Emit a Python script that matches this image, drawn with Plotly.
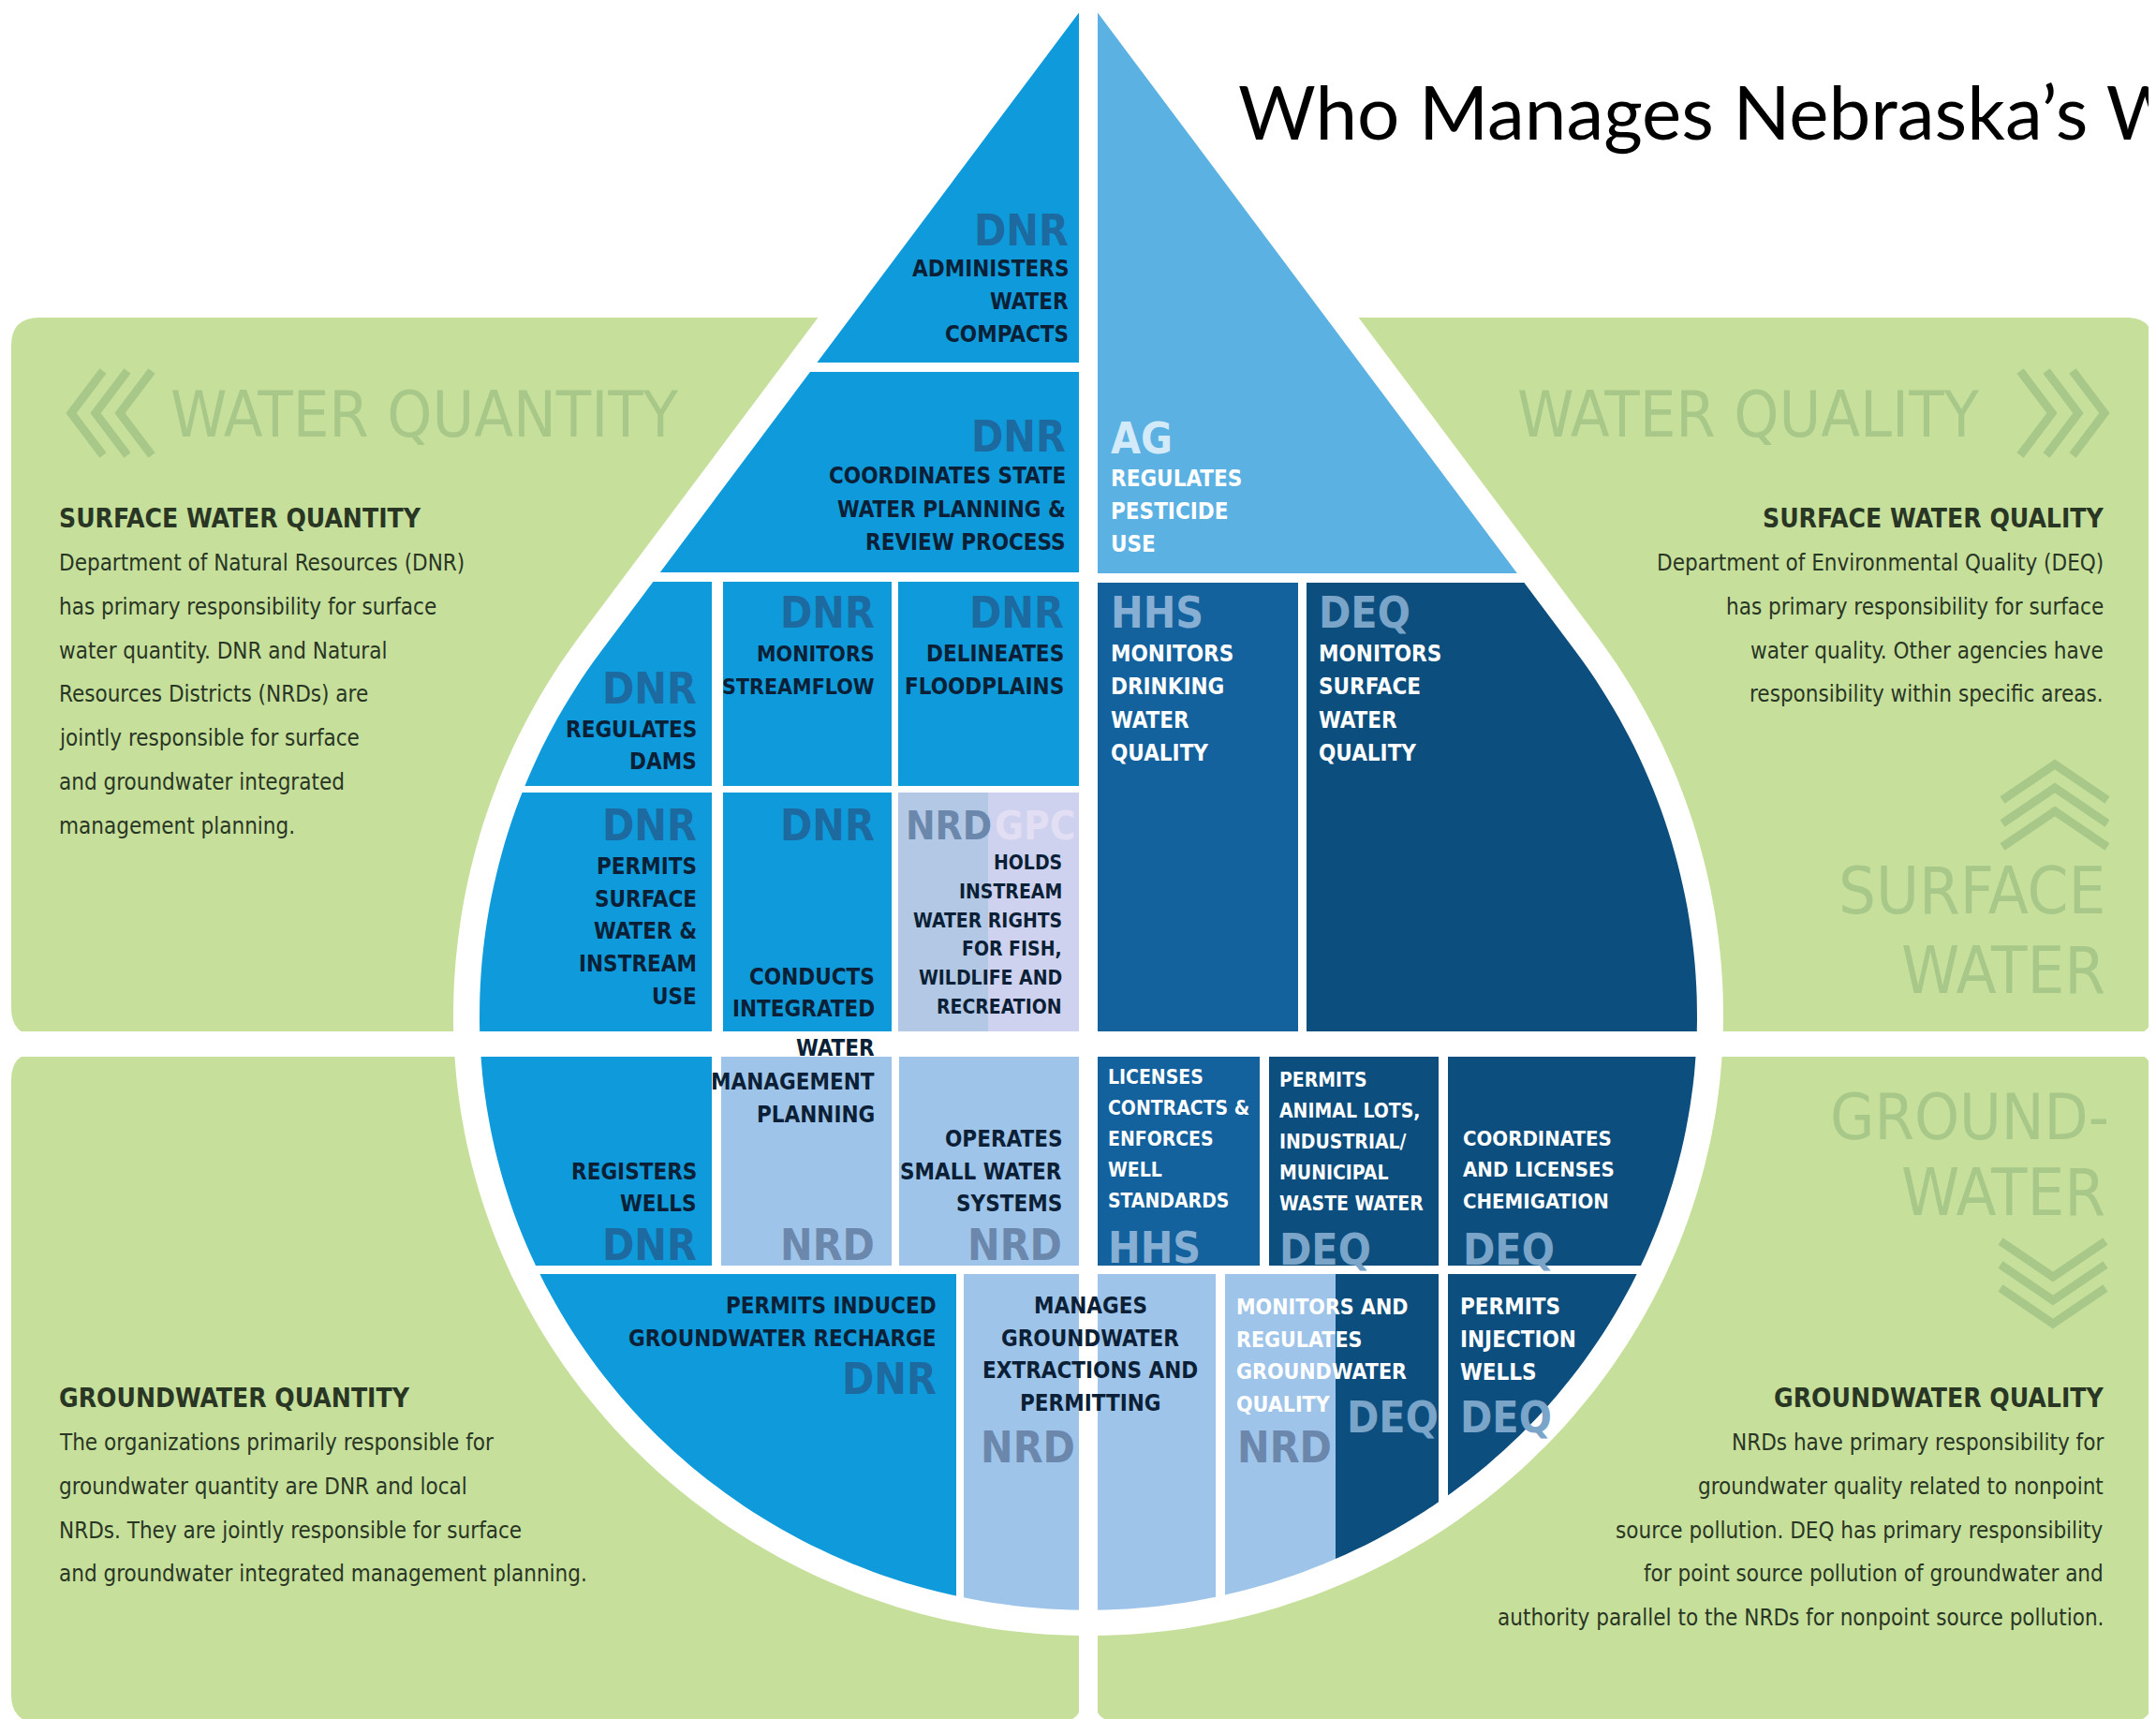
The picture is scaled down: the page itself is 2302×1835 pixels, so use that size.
import numpy as np
import plotly.graph_objects as go

# ---------------- content ----------------
TITLE = "Who Manages Nebraska’s Water?"

PANEL_HEADINGS = ["SURFACE WATER QUANTITY", "SURFACE WATER QUALITY",
                  "GROUNDWATER QUANTITY", "GROUNDWATER QUALITY"]
PANEL_BODIES = [
    ["Department of Natural Resources (DNR)", "has primary responsibility for surface",
     "water quantity. DNR and Natural", "Resources Districts (NRDs) are",
     "jointly responsible for surface", "and groundwater integrated", "management planning."],
    ["Department of Environmental Quality (DEQ)", "has primary responsibility for surface",
     "water quality. Other agencies have", "responsibility within specific areas."],
    ["The organizations primarily responsible for", "groundwater quantity are DNR and local",
     "NRDs. They are jointly responsible for surface",
     "and groundwater integrated management planning."],
    ["NRDs have primary responsibility for", "groundwater quality related to nonpoint",
     "source pollution. DEQ has primary responsibility",
     "for point source pollution of groundwater and",
     "authority parallel to the NRDs for nonpoint source pollution."],
]
WATERMARKS = ["WATER QUANTITY", "WATER QUALITY", "SURFACE", "WATER", "GROUND-", "WATER"]

BLOCK_AGENCY = ["DNR", "DNR", "DNR", "DNR", "DNR", "DNR", "DNR", "NRD", "DNR", "NRD", "NRD",
                "DNR", "NRD", "AG", "HHS", "DEQ", "HHS", "DEQ", "DEQ", "NRD", "DEQ"]
BLOCK_AGENCY2 = [None] * 7 + ["GPC"] + [None] * 11 + ["DEQ", None]
BLOCK_ACTION = [
    ["ADMINISTERS", "WATER", "COMPACTS"],
    ["COORDINATES STATE", "WATER PLANNING &", "REVIEW PROCESS"],
    ["REGULATES", "DAMS"],
    ["MONITORS", "STREAMFLOW"],
    ["DELINEATES", "FLOODPLAINS"],
    ["PERMITS", "SURFACE", "WATER &", "INSTREAM", "USE"],
    ["CONDUCTS", "INTEGRATED"],
    ["HOLDS", "INSTREAM", "WATER RIGHTS", "FOR FISH,", "WILDLIFE AND", "RECREATION"],
    ["REGISTERS", "WELLS"],
    ["WATER", "MANAGEMENT", "PLANNING"],
    ["OPERATES", "SMALL WATER", "SYSTEMS"],
    ["PERMITS INDUCED", "GROUNDWATER RECHARGE"],
    ["MANAGES", "GROUNDWATER", "EXTRACTIONS AND", "PERMITTING"],
    ["REGULATES", "PESTICIDE", "USE"],
    ["MONITORS", "DRINKING", "WATER", "QUALITY"],
    ["MONITORS", "SURFACE", "WATER", "QUALITY"],
    ["LICENSES", "CONTRACTS &", "ENFORCES", "WELL", "STANDARDS"],
    ["PERMITS", "ANIMAL LOTS,", "INDUSTRIAL/", "MUNICIPAL", "WASTE WATER"],
    ["COORDINATES", "AND LICENSES", "CHEMIGATION"],
    ["MONITORS AND", "REGULATES", "GROUNDWATER", "QUALITY"],
    ["PERMITS", "INJECTION", "WELLS"],
]

# ---------------- styles / layout ----------------
W, H = 2302, 1835
GREEN = "#c6e09c"
WM = "#a8c889"
DARKTXT = "#2a3624"
COND = "DejaVu Sans Condensed, Roboto, sans-serif"

STY = {
    "DNR": dict(fill="#0f9bdb", txt="#0b1f36", lab="#1c6aa0"),
    "NRD": dict(fill="#9fc4e9", txt="#0b1f36", lab="#6b87ab"),
    "AG": dict(fill="#5cb1e3", txt="#ffffff", lab="#d3eaf8"),
    "HHS": dict(fill="#13619d", txt="#ffffff", lab="#86afd3"),
    "DEQ": dict(fill="#0c4e7e", txt="#ffffff", lab="#7ba4c9"),
}

# drop geometry
CX, APEX_Y, CY, R = 1154, -8, 1077, 650
SQUASH = 0.975          # lower half of the drop is slightly flattened
OUTLINE = 28
VGAP = (1144, 1164)
HGAP = (1093, 1120)

# per-block placement: box, text anchor x, align, first line y, line step, font size, label y
BL = [
    dict(box=(-200, 1144, -200, 379), x=1135, al="right", y0=279, dy=35, fs=24, ly=238),
    dict(box=(-200, 1144, 389, 603), x=1132, al="right", y0=500, dy=35.5, fs=24, ly=458),
    dict(box=(-200, 752, 613, 831), x=738, al="right", y0=771, dy=34, fs=24, ly=727),
    dict(box=(764, 944, 613, 831), x=928, al="right", y0=690, dy=35, fs=23, ly=646),
    dict(box=(951, 1144, 613, 831), x=1130, al="right", y0=690, dy=35, fs=24, ly=646),
    dict(box=(-200, 752, 838, 1093), x=738, al="right", y0=917, dy=34.7, fs=24, ly=873),
    dict(box=(764, 944, 838, 1093), x=928, al="right", y0=1035, dy=34, fs=24, ly=873),
    dict(box=(951, 1144, 838, 1093), x=1128, al="right", y0=913, dy=30.8, fs=21, ly=873,
         segs=[(951, 1047, "#b3c8e4"), (1047, 1144, "#cfd2ee")],
         lx=957, lal="left", l2x=1052, l2y=873, l2c="#e2def3", lfs=42),
    dict(box=(-200, 752, 1120, 1343), x=738, al="right", y0=1243, dy=34, fs=24, ly=1321),
    dict(box=(762, 944, 1120, 1343), x=928, al="right", y0=1111, dy=35.5, fs=24, ly=1321),
    dict(box=(952, 1144, 1120, 1343), x=1128, al="right", y0=1208, dy=34.5, fs=24, ly=1321),
    dict(box=(-200, 1013, 1352, 2000), x=994, al="right", y0=1386, dy=35, fs=24, ly=1464),
    dict(box=(1021, 1290, 1352, 2000), x=1156, al="center", y0=1386, dy=34.7, fs=24, ly=1537,
         lx=1089, lal="center"),
    dict(box=(1164, 2400, -200, 604), x=1176, al="left", y0=503, dy=35, fs=24, ly=460),
    dict(box=(1164, 1378, 614, 1093), x=1176, al="left", y0=690, dy=35.3, fs=24, ly=646),
    dict(box=(1387, 2400, 614, 1093), x=1398, al="left", y0=690, dy=35.3, fs=24, ly=646),
    dict(box=(1164, 1337, 1120, 1343), x=1173, al="left", y0=1142, dy=33, fs=21, ly=1324),
    dict(box=(1347, 1528, 1120, 1343), x=1356, al="left", y0=1145, dy=33, fs=21, ly=1326),
    dict(box=(1538, 2400, 1120, 1343), x=1552, al="left", y0=1207, dy=33.5, fs=22, ly=1326),
    dict(box=(1300, 1528, 1352, 2000), x=1310, al="left", y0=1387, dy=34.7, fs=23, ly=1537,
         segs=[(1300, 1418, STY["NRD"]["fill"]), (1418, 1528, STY["DEQ"]["fill"])],
         txt="#ffffff", lx=1311, lal="left", l2x=1428, l2y=1505, l2c=STY["DEQ"]["lab"]),
    dict(box=(1538, 2400, 1352, 2000), x=1549, al="left", y0=1387, dy=35, fs=24, ly=1505),
]


def drop_polygon(cx, apex_y, cy, r, n=240):
    d = cy - apex_y
    a = np.arccos(r / d)
    betas = np.linspace(a, 2 * np.pi - a, n)
    pts = [(cx, apex_y)]
    for b in betas:
        y = cy - r * np.cos(b)
        if y > cy:
            y = cy + (y - cy) * SQUASH
        pts.append((cx + r * np.sin(b), y))
    return pts


def clip(poly, x0, x1, y0, y1):
    def stage(pts, inside, inter):
        out = []
        for i in range(len(pts)):
            cur, prev = pts[i], pts[i - 1]
            if inside(cur):
                if not inside(prev):
                    out.append(inter(prev, cur))
                out.append(cur)
            elif inside(prev):
                out.append(inter(prev, cur))
        return out

    def ix(xv):
        return lambda p, q: (xv, p[1] + (q[1] - p[1]) * (xv - p[0]) / (q[0] - p[0]))

    def iy(yv):
        return lambda p, q: (p[0] + (q[0] - p[0]) * (yv - p[1]) / (q[1] - p[1]), yv)

    pts = poly
    pts = stage(pts, lambda p: p[0] >= x0, ix(x0))
    if pts:
        pts = stage(pts, lambda p: p[0] <= x1, ix(x1))
    if pts:
        pts = stage(pts, lambda p: p[1] >= y0, iy(y0))
    if pts:
        pts = stage(pts, lambda p: p[1] <= y1, iy(y1))
    return pts


def path_of(pts, close=True):
    s = "M " + " L ".join(f"{x:.1f},{y:.1f}" for x, y in pts)
    return s + (" Z" if close else "")


def rounded_rect(x0, y0, x1, y1, r):
    return (f"M {x0+r},{y0} L {x1-r},{y0} Q {x1},{y0} {x1},{y0+r} L {x1},{y1-r} "
            f"Q {x1},{y1} {x1-r},{y1} L {x0+r},{y1} Q {x0},{y1} {x0},{y1-r} "
            f"L {x0},{y0+r} Q {x0},{y0} {x0+r},{y0} Z")


shapes = []
ann = []

# green panels
for (x0, x1) in [(4, VGAP[0] + 5), (VGAP[1] - 5, 2292)]:
    for (y0, y1) in [(331, HGAP[0] + 5), (HGAP[1] - 5, 1831)]:
        shapes.append(dict(type="path", path=rounded_rect(x0, y0, x1, y1, 30),
                           fillcolor=GREEN, line=dict(width=0), layer="below"))

# chevrons (watermark)
def chev(pts, w=9):
    shapes.append(dict(type="path", path=path_of(pts, close=False), fillcolor="rgba(0,0,0,0)",
                       line=dict(color=WM, width=w), layer="below"))

for t in [68, 94, 120]:
    chev([(t + 34, 388), (t, 433), (t + 34, 478)])
for t in [2183, 2211, 2239]:
    chev([(t - 34, 388), (t, 433), (t - 34, 478)])
for a in [808, 833, 858]:
    chev([(2130, a + 38), (2186, a), (2242, a + 38)])
for b in [1355, 1380, 1405]:
    chev([(2128, b - 38), (2184, b), (2240, b - 38)])

# white drop outline
outer_apex = CY - (R + OUTLINE) * (CY - APEX_Y) / R
shapes.append(dict(type="path", path=path_of(drop_polygon(CX, outer_apex, CY, R + OUTLINE)),
                   fillcolor="white", line=dict(width=0), layer="below"))

inner = drop_polygon(CX, APEX_Y, CY, R)

# blocks
for i, b in enumerate(BL):
    st = STY[BLOCK_AGENCY[i]]
    x0, x1, y0, y1 = b["box"]
    segs = b.get("segs", [(x0, x1, st["fill"])])
    for (sx0, sx1, col) in segs:
        poly = clip(inner, sx0, sx1, y0, y1)
        if len(poly) >= 3:
            shapes.append(dict(type="path", path=path_of(poly), fillcolor=col,
                               line=dict(width=0), layer="below"))

# white cross dividers
shapes.append(dict(type="rect", x0=VGAP[0], x1=VGAP[1], y0=-10, y1=H + 10,
                   fillcolor="white", line=dict(width=0), layer="below"))
shapes.append(dict(type="rect", x0=-10, x1=W + 10, y0=HGAP[0], y1=HGAP[1],
                   fillcolor="white", line=dict(width=0), layer="below"))


def text(x, y, s, size, color, xanchor="left", family=COND, bold=False):
    ann.append(dict(x=x, y=y, xref="x", yref="y", text=(f"<b>{s}</b>" if bold else s),
                    showarrow=False, xanchor=xanchor, yanchor="middle",
                    font=dict(family=family, size=size, color=color)))


# block texts
for i, b in enumerate(BL):
    st = STY[BLOCK_AGENCY[i]]
    tcol = b.get("txt", st["txt"])
    for k, line in enumerate(BLOCK_ACTION[i]):
        text(b["x"], b["y0"] + k * b["dy"], line, b["fs"], tcol, b["al"], bold=True)
    lx = b.get("lx", b["x"])
    lal = b.get("lal", b["al"])
    lfs = b.get("lfs", 46)
    text(lx, b["ly"], BLOCK_AGENCY[i], lfs, st["lab"], lal, bold=True)
    if BLOCK_AGENCY2[i]:
        text(b["l2x"], b["l2y"], BLOCK_AGENCY2[i], lfs, b["l2c"], "left", bold=True)

# watermarks
wm_pos = [(172, 434, "left", 68), (2107, 434, "right", 68), (2242, 943, "right", 70),
          (2242, 1028, "right", 70), (2246, 1184, "right", 68), (2242, 1265, "right", 70)]
for s, (x, y, al, fs) in zip(WATERMARKS, wm_pos):
    text(x, y, s, fs, WM, al)

# panel texts
panel_pos = [(53, 545, "left"), (2240, 545, "right"), (53, 1484, "left"), (2240, 1484, "right")]
for head, body, (x, y, al) in zip(PANEL_HEADINGS, PANEL_BODIES, panel_pos):
    text(x, y, head, 28, DARKTXT, al, bold=True)
    for k, line in enumerate(body):
        text(x, y + 48 + k * 46.8, line, 24, DARKTXT, al)

# title
text(1312, 110, TITLE, 80, "#000000", "left", family="Lato")

fig = go.Figure()
fig.update_layout(
    width=W, height=H, margin=dict(l=0, r=0, t=0, b=0),
    paper_bgcolor="white", plot_bgcolor="white",
    xaxis=dict(range=[0, W], visible=False, fixedrange=True),
    yaxis=dict(range=[H, 0], visible=False, fixedrange=True),
    shapes=shapes, annotations=ann, showlegend=False,
)
fig.write_html("out.html", config={"displayModeBar": False})
